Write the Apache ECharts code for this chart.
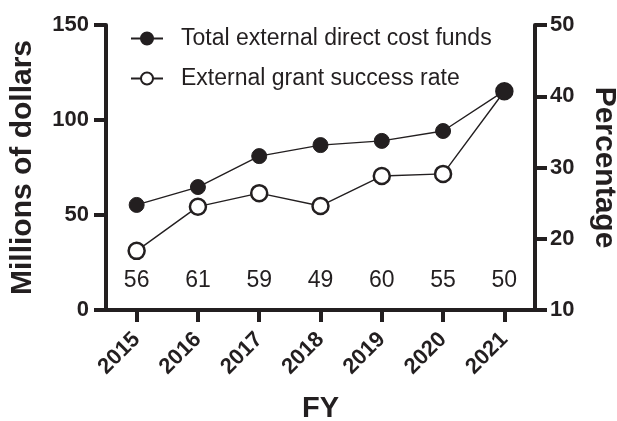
<!DOCTYPE html>
<html>
<head>
<meta charset="utf-8">
<script src="https://cdn.jsdelivr.net/npm/echarts@6/dist/echarts.min.js"></script>
<style>
  html, body { margin: 0; padding: 0; background: #fff; }
  #chart { width: 617px; height: 421px; }
</style>
</head>
<body>
<div id="chart"></div>
<script>
const years = ['2015', '2016', '2017', '2018', '2019', '2020', '2021'];
const directCostFunds = [55.3, 64.7, 81, 86.8, 89, 94.2, 115.3];
const successRate = [18.3, 24.5, 26.4, 24.6, 28.8, 29.1, 40.7];
const yearCounts = [56, 61, 59, 49, 60, 55, 50];
const countRowLevel = 15.2;

const ink = '#231f20';
const font = '"Liberation Sans", Arial, Helvetica, sans-serif';
const axisLine = { show: true, lineStyle: { color: ink, width: 4 } };
const axisTick = { show: true, length: 12, lineStyle: { color: ink, width: 4 } };
const tickLabel = { color: ink, fontFamily: font, fontWeight: 'bold', fontSize: 22 };
const titleStyle = { color: ink, fontFamily: font, fontWeight: 'bold', fontSize: 30 };

const chart = echarts.init(document.getElementById('chart'));

chart.setOption({
  animation: false,
  textStyle: { fontFamily: font },
  grid: { left: 106, right: 82, top: 25, bottom: 111, outerBoundsMode: 'none' },
  legend: {
    orient: 'vertical',
    left: 125,
    top: 22,
    itemWidth: 32,
    itemHeight: 15,
    itemGap: 17,
    textStyle: { color: ink, fontFamily: font, fontSize: 23, padding: [0, 0, 0, 13] },
    data: ['Total external direct cost funds', 'External grant success rate']
  },
  xAxis: {
    type: 'category',
    data: years,
    boundaryGap: true,
    name: 'FY',
    nameLocation: 'middle',
    nameGap: 84,
    nameTextStyle: Object.assign({}, titleStyle, { fontSize: 29 }),
    axisLine: axisLine,
    axisTick: Object.assign({ alignWithLabel: true }, axisTick),
    axisLabel: Object.assign({ rotate: 45, margin: 26 }, tickLabel),
    splitLine: { show: false }
  },
  yAxis: [
    {
      type: 'value',
      min: 0,
      max: 150,
      interval: 50,
      position: 'left',
      name: 'Millions of dollars',
      nameLocation: 'middle',
      nameRotate: 90,
      nameGap: 68,
      nameTextStyle: titleStyle,
      axisLine: axisLine,
      axisTick: axisTick,
      axisLabel: Object.assign({ margin: 17 }, tickLabel),
      splitLine: { show: false }
    },
    {
      type: 'value',
      min: 10,
      max: 50,
      interval: 10,
      position: 'right',
      name: 'Percentage',
      nameLocation: 'middle',
      nameRotate: -90,
      nameGap: 54,
      nameTextStyle: titleStyle,
      axisLine: axisLine,
      axisTick: axisTick,
      axisLabel: Object.assign({ margin: 15 }, tickLabel),
      splitLine: { show: false }
    }
  ],
  series: [
    {
      name: 'External grant success rate',
      type: 'line',
      yAxisIndex: 1,
      data: successRate,
      symbol: 'circle',
      symbolSize: 16,
      itemStyle: { color: '#fff', borderColor: ink, borderWidth: 2.5 },
      lineStyle: { color: ink, width: 1.4 },
      z: 2
    },
    {
      name: 'Total external direct cost funds',
      type: 'line',
      yAxisIndex: 0,
      data: directCostFunds,
      symbol: 'circle',
      symbolSize: 15,
      itemStyle: { color: ink, borderColor: ink, borderWidth: 1 },
      lineStyle: { color: ink, width: 1.4 },
      z: 3
    },
    {
      name: 'counts',
      type: 'scatter',
      yAxisIndex: 0,
      symbolSize: 0,
      itemStyle: { opacity: 1 },
      data: yearCounts.map(function (c, i) { return { value: [years[i], countRowLevel], count: c }; }),
      label: {
        show: true,
        position: 'inside',
        color: ink,
        opacity: 1,
        fontFamily: font,
        fontSize: 23,
        formatter: function (p) { return String(p.data.count); }
      },
      silent: true
    }
  ]
});
</script>
</body>
</html>
